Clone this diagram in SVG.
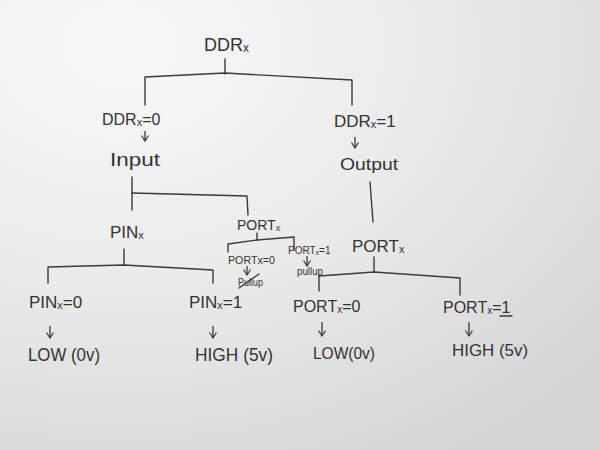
<svg xmlns="http://www.w3.org/2000/svg" width="600" height="450" viewBox="0 0 600 450">
  <defs>
    <radialGradient id="paper" cx="0.2" cy="0.1" r="1.1">
      <stop offset="0" stop-color="#f8f8f8"/>
      <stop offset="0.45" stop-color="#ececec"/>
      <stop offset="1" stop-color="#d4d4d4"/>
    </radialGradient>
    <marker id="arr" viewBox="0 0 7 8" refX="6" refY="4" markerWidth="7" markerHeight="8" markerUnits="userSpaceOnUse" orient="auto">
      <path d="M0.5,0.5 L6,4 L0.5,7.5" fill="none" stroke="#383838" stroke-width="1.2"/>
    </marker>
    <style>
      .t { font-family: "Liberation Sans", "DejaVu Sans", sans-serif; fill: #333; }
      .c { fill: none; stroke: #3a3a3a; stroke-width: 1.4; stroke-linecap: round; stroke-linejoin: round; }
      .a { fill: none; stroke: #3a3a3a; stroke-width: 1.3; marker-end: url(#arr); }
    </style>
  </defs>
  <rect width="600" height="450" fill="url(#paper)"/>

  <g id="connectors">
    <path class="c" d="M225 59 L225 74"/>
    <path class="c" d="M145 105 L145 77 L225 73 L352 80 L352 105"/>
    <path class="a" d="M145 131 L145 141"/>
    <path class="a" d="M355 137 L355 148"/>
    <path class="c" d="M132 177 L132 210"/>
    <path class="c" d="M132 193 L247 196 L248 215"/>
    <path class="c" d="M124 249 L124 265"/>
    <path class="c" d="M48 283 L48 267 L124 265 L213 270 L213 283"/>
    <path class="a" d="M50 326 L50 338"/>
    <path class="a" d="M213 326 L213 338"/>
    <path class="c" d="M370 182 L373 222"/>
    <path class="c" d="M257 233 L257 240"/>
    <path class="c" d="M228 252 L228 244 L257 240 L294 237 L294 250"/>
    <path class="a" d="M247 266 L247 275"/>
    <path class="a" d="M307 256 L307 266"/>
    <path class="c" d="M374 257 L374 271"/>
    <path class="c" d="M319 291 L319 276 L374 272 L460 278 L460 295"/>
    <path class="a" d="M322 322 L322 336"/>
    <path class="a" d="M469 322 L469 336"/>
  </g>

  <g id="ddrx"><text class="t" x="204" y="51" font-size="18">DDR<tspan font-size="12" dy="1">x</tspan></text></g>
  <g id="ddrx0"><text class="t" x="102" y="125" font-size="16">DDR<tspan font-size="11" dy="1">x</tspan><tspan dy="-1">=0</tspan></text></g>
  <g id="input"><text class="t" x="110" y="166" font-size="18" textLength="50" lengthAdjust="spacingAndGlyphs">Input</text></g>
  <g id="ddrx1"><text class="t" x="334" y="127" font-size="17">DDR<tspan font-size="11" dy="1">x</tspan><tspan dy="-1">=1</tspan></text></g>
  <g id="output"><text class="t" x="340" y="170" font-size="16" textLength="58" lengthAdjust="spacingAndGlyphs">Output</text></g>

  <g id="pinx"><text class="t" x="110" y="238" font-size="17">PIN<tspan font-size="11" dy="1">x</tspan></text></g>
  <g id="pinx0"><text class="t" x="29" y="308" font-size="17">PIN<tspan font-size="11" dy="1">x</tspan><tspan dy="-1">=0</tspan></text></g>
  <g id="pinx1"><text class="t" x="189" y="308" font-size="17">PIN<tspan font-size="11" dy="1">x</tspan><tspan dy="-1">=1</tspan></text></g>
  <g id="low-in"><text class="t" x="28" y="361" font-size="18" textLength="72" lengthAdjust="spacingAndGlyphs">LOW (0v)</text></g>
  <g id="high-in"><text class="t" x="195" y="361" font-size="18" textLength="78" lengthAdjust="spacingAndGlyphs">HIGH (5v)</text></g>

  <g id="portx-in"><text class="t" x="237" y="230" font-size="14">PORT<tspan font-size="9" dy="1">x</tspan></text></g>
  <g id="portx0-in"><text class="t" x="228" y="264" font-size="11" textLength="47" lengthAdjust="spacingAndGlyphs">PORTx=0</text></g>
  <g id="pullup-x">
    <text class="t" x="238" y="286" font-size="10" textLength="25" lengthAdjust="spacingAndGlyphs">Pullup</text>
    <path class="c" d="M239 288 L259 274" stroke-width="1.1"/>
  </g>
  <g id="portx1-in"><text class="t" x="288" y="254" font-size="10">PORT<tspan font-size="7" dy="1">x</tspan><tspan dy="-1">=1</tspan></text></g>
  <g id="pullup"><text class="t" x="297" y="275" font-size="10" textLength="26" lengthAdjust="spacingAndGlyphs">pullup</text></g>

  <g id="portx-out"><text class="t" x="352" y="252" font-size="17">PORT<tspan font-size="11" dy="1">x</tspan></text></g>
  <g id="portx0-out"><text class="t" x="293" y="312" font-size="16">PORT<tspan font-size="10" dy="1">x</tspan><tspan dy="-1">=0</tspan></text></g>
  <g id="portx1-out">
    <text class="t" x="443" y="313" font-size="16">PORT<tspan font-size="10" dy="1">x</tspan><tspan dy="-1">=1</tspan></text>
    <path class="c" d="M500 316 L512 316" stroke-width="1.2"/>
  </g>
  <g id="low-out"><text class="t" x="313" y="359" font-size="16" textLength="62" lengthAdjust="spacingAndGlyphs">LOW(0v)</text></g>
  <g id="high-out"><text class="t" x="452" y="356" font-size="16" textLength="76" lengthAdjust="spacingAndGlyphs">HIGH (5v)</text></g>
</svg>
